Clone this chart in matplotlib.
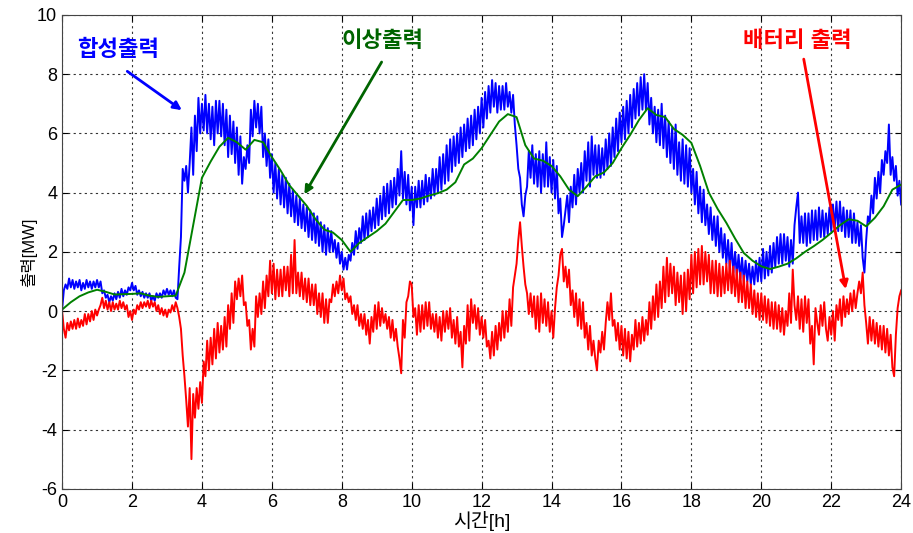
import numpy as np
import matplotlib
matplotlib.use('Agg')
from matplotlib import pyplot as plt

plt.rcParams['font.family'] = ['Liberation Sans', 'Noto Sans CJK KR', 'DejaVu Sans']
plt.rcParams['axes.unicode_minus'] = False

# Ideal output (green), sampled every 0.25 h
ideal = [0.05, 0.30, 0.50, 0.63, 0.72, 0.65, 0.56, 0.57,
         0.58, 0.60, 0.52, 0.48, 0.50, 0.52, 1.30, 2.90,
         4.50, 5.05, 5.55, 5.85, 5.70, 5.45, 5.78, 5.70,
         5.20, 4.75, 4.25, 3.90, 3.55, 3.10, 2.75, 2.65,
         2.40, 2.00, 2.30, 2.50, 2.70, 2.95, 3.35, 3.75,
         3.75, 3.80, 3.90, 3.98, 4.10, 4.35, 4.95, 5.15,
         5.50, 5.95, 6.40, 6.65, 6.55, 5.60, 5.15, 5.08,
         4.90, 4.55, 4.10, 3.88, 4.20, 4.55, 4.68, 5.00,
         5.50, 5.95, 6.45, 6.85, 6.62, 6.55, 6.15, 5.95,
         5.68, 4.90, 4.00, 3.45, 2.98, 2.45, 1.96, 1.70,
         1.51, 1.42, 1.50, 1.60, 1.78, 2.00, 2.19, 2.40,
         2.64, 2.90, 3.10, 3.05, 2.86, 3.15, 3.54, 4.10,
         4.27]

# Combined output (blue), sampled every 0.05 h, one row per hour
combined = [
    0.05, 0.7, 0.9, 0.75, 1.1, 0.8, 1.05, 0.75, 1.0, 0.8, 1.05, 0.7, 0.95, 0.75, 1.05, 0.8, 1.0, 0.75, 1.0, 0.8,
    1.05, 0.8, 1.0, 0.6, 0.7, 0.45, 0.55, 0.3, 0.5, 0.35, 0.6, 0.4, 0.65, 0.45, 0.75, 0.5, 0.7, 0.55, 0.8, 0.7,
    0.95, 0.7, 0.85, 0.55, 0.7, 0.5, 0.65, 0.45, 0.6, 0.45, 0.6, 0.35, 0.5, 0.35, 0.6, 0.45, 0.6, 0.45, 0.7, 0.55,
    0.75, 0.55, 0.7, 0.5, 0.7, 0.45, 0.4, 1.5, 2.5, 4.8, 4.4, 4.9, 4.0, 5.0, 6.2, 4.6, 6.6, 5.4, 7.2, 6.0,
    7.0, 6.1, 7.3, 6.0, 7.0, 5.8, 6.9, 5.6, 7.1, 6.0, 7.1, 5.9, 7.0, 5.6, 6.8, 5.2, 6.6, 5.3, 6.4, 5.0,
    6.2, 4.6, 5.9, 4.3, 5.2, 4.8, 5.6, 5.0, 6.8, 5.9, 7.1, 6.2, 7.0, 6.0, 6.9, 5.2, 6.0, 4.9, 5.8, 4.5,
    5.3, 4.0, 5.0, 3.8, 4.8, 3.6, 4.6, 3.5, 4.5, 3.3, 4.3, 3.2, 4.1, 3.0, 3.9, 2.9, 3.8, 2.8, 3.6, 2.7,
    3.5, 2.5, 3.4, 2.4, 3.3, 2.3, 3.2, 2.2, 3.0, 2.0, 2.9, 1.9, 2.8, 2.0, 2.7, 2.0, 2.4, 1.8, 2.3, 1.6,
    2.0, 1.4, 1.8, 1.4, 1.9, 1.7, 2.3, 1.9, 2.7, 2.1, 2.8, 2.3, 3.2, 2.4, 3.3, 2.5, 3.4, 2.7, 3.5, 2.8,
    3.8, 2.9, 3.9, 3.1, 4.2, 3.2, 4.3, 3.3, 4.4, 3.5, 4.5, 3.6, 4.8, 3.9, 5.4, 3.8, 4.7, 3.6, 4.6, 3.4,
    4.2, 2.9, 4.2, 3.5, 4.4, 3.5, 4.4, 3.6, 4.6, 3.7, 4.5, 3.8, 4.8, 3.9, 4.8, 4.0, 5.2, 4.1, 5.3, 4.3,
    5.6, 4.4, 5.8, 4.7, 5.9, 4.9, 6.0, 5.0, 6.2, 5.2, 6.3, 5.4, 6.5, 5.5, 6.6, 5.6, 6.8, 5.8, 6.9, 6.0,
    7.2, 6.2, 7.4, 6.5, 7.6, 6.7, 7.8, 6.9, 7.7, 6.7, 7.6, 6.8, 7.6, 6.8, 7.7, 6.9, 7.4, 6.7, 7.3, 6.3,
    5.6, 4.8, 4.5, 3.6, 3.2, 3.9, 4.2, 5.4, 4.5, 5.6, 4.3, 5.3, 4.2, 5.4, 4.0, 5.3, 4.2, 5.7, 4.2, 5.2,
    4.0, 5.1, 3.8, 4.9, 3.3, 3.8, 2.5, 2.9, 3.4, 3.9, 3.0, 4.2, 3.5, 4.6, 3.6, 4.8, 4.0, 5.0, 4.0, 5.4,
    4.4, 5.7, 4.2, 5.9, 4.6, 5.6, 4.5, 5.6, 4.5, 5.5, 4.6, 5.8, 4.8, 6.0, 4.9, 6.2, 5.2, 6.5, 5.4, 6.7,
    5.7, 6.9, 5.8, 7.1, 6.0, 7.3, 6.2, 7.5, 6.5, 7.7, 6.6, 7.9, 6.8, 8.0, 6.8, 7.7, 6.3, 7.2, 6.0, 6.9,
    5.7, 6.8, 5.6, 7.0, 5.5, 6.6, 5.2, 6.4, 5.0, 6.2, 4.8, 6.3, 4.6, 5.7, 4.4, 5.8, 4.3, 5.6, 4.2, 5.5,
    4.0, 4.8, 3.6, 4.7, 3.3, 4.2, 3.0, 4.1, 2.9, 3.6, 2.6, 3.5, 2.4, 3.2, 2.2, 3.2, 2.0, 2.8, 1.8, 2.6,
    1.6, 2.4, 1.4, 2.3, 1.3, 2.0, 1.2, 1.9, 1.1, 1.8, 1.0, 1.7, 1.0, 1.6, 0.9, 1.5, 0.9, 1.7, 1.0, 1.8,
    1.0, 2.1, 1.1, 2.0, 1.2, 2.2, 1.3, 2.3, 1.5, 2.5, 1.6, 2.6, 1.6, 2.6, 1.7, 2.5, 1.5, 2.4, 1.6, 2.9,
    3.5, 4.0, 2.3, 3.2, 2.3, 3.3, 2.2, 3.3, 2.3, 3.4, 2.4, 3.4, 2.4, 3.5, 2.5, 3.4, 2.5, 3.3, 2.6, 3.5,
    2.7, 3.6, 2.8, 3.7, 2.7, 3.7, 2.7, 3.5, 2.5, 3.4, 2.5, 3.4, 2.3, 3.3, 2.3, 3.0, 2.2, 2.9, 1.8, 1.3,
    2.4, 3.2, 3.0, 3.9, 3.3, 4.5, 3.8, 4.7, 4.0, 5.1, 4.6, 5.4, 5.0, 6.3, 4.6, 5.2, 4.4, 4.9, 3.9, 4.4,
    3.6]

# Battery output (red), sampled every 0.05 h, one row per hour
battery = [
    0.0, -0.6, -0.9, -0.4, -0.65, -0.35, -0.6, -0.3, -0.6, -0.25, -0.55, -0.3, -0.5, -0.1, -0.45, -0.1, -0.35, 0.0, -0.3, 0.05,
    -0.15, 0.05, 0.2, 0.45, 0.1, 0.35, 0.05, 0.3, 0.0, 0.3, 0.05, 0.25, 0.05, 0.35, 0.1, 0.3, 0.05, 0.2, -0.2, 0.0,
    -0.3, 0.05, -0.1, 0.2, 0.05, 0.3, 0.1, 0.3, 0.15, 0.35, 0.1, 0.35, 0.15, 0.3, 0.0, 0.2, -0.1, 0.1, -0.15, 0.05,
    -0.2, 0.05, -0.05, 0.2, 0.0, 0.3, 0.1, -0.2, -0.6, -1.5, -2.2, -3.0, -3.9, -2.6, -5.0, -2.8, -3.6, -2.6, -3.3, -2.4,
    -3.1, -1.7, -2.2, -1.0, -2.0, -0.9, -1.8, -0.6, -1.6, -0.4, -1.4, -0.5, -1.3, -0.2, -1.2, 0.2, -0.6, 0.6, -0.4, 1.0,
    0.4, 1.1, 0.5, 1.2, 0.2, 0.3, -0.5, -0.3, -1.3, -0.6, -1.2, 0.5, -0.2, 0.6, -0.1, 1.0, 0.1, 1.2, 0.5, 1.7,
    0.6, 1.6, 0.4, 1.4, 0.5, 1.4, 0.5, 1.5, 0.7, 1.5, 0.5, 1.9, 0.6, 2.4, 0.6, 1.3, 0.5, 1.3, 0.4, 1.1,
    0.3, 1.1, 0.2, 0.9, 0.2, 0.9, -0.1, 0.6, -0.2, 0.6, -0.4, 0.4, -0.4, 0.4, 0.3, 0.9, 0.5, 1.0, 0.6, 1.2,
    0.7, 1.1, 0.4, 0.6, 0.3, 0.5, -0.1, 0.2, -0.3, 0.2, -0.5, -0.1, -0.6, -0.1, -0.8, -0.3, -1.1, -0.2, -0.7, 0.2,
    -0.6, 0.3, -0.5, 0.1, -0.4, -0.1, -0.6, -0.2, -0.9, -0.3, -1.0, -0.6, -1.2, -1.6, -2.1, -0.3, -0.9, 0.3, 0.5, 1.0,
    0.9, -0.2, 0.1, -0.8, 0.2, -0.7, 0.2, -0.6, 0.3, -0.5, 0.3, -0.6, -0.1, -0.7, -0.1, -0.9, -0.2, -1.0, 0.0, -0.7,
    0.0, -0.6, 0.1, -0.9, -0.3, -1.1, -0.2, -1.2, -0.7, -1.9, -0.5, -1.1, 0.2, -1.0, 0.4, -0.4, 0.2, -0.6, 0.1, -0.8,
    -0.2, -0.9, -0.3, -1.2, -1.0, -1.6, -0.7, -1.5, -0.5, -1.3, -0.4, -1.0, 0.0, -0.9, 0.0, -0.7, 0.4, -0.5, 0.8, 1.2,
    1.6, 2.4, 3.0, 2.2, 1.5, 0.9, 0.6, -0.1, 0.6, -0.2, 0.5, -0.6, 0.5, -0.7, 0.6, -0.4, 0.4, -0.5, 0.3, -0.7,
    0.0, -0.9, 0.1, 0.8, 1.2, 1.9, 2.1, 1.0, 1.5, 0.8, 1.4, 0.2, 0.7, -0.2, 0.6, -0.5, 0.4, -0.6, 0.3, -0.9,
    -0.4, -1.3, -0.5, -1.5, -1.0, -1.6, -2.0, -1.0, -1.4, -0.7, -1.3, -0.4, 0.3, -0.3, 0.6, -0.5, -0.3, -1.0, -0.4, -1.3,
    -0.5, -1.5, -0.6, -1.6, -0.7, -1.7, -0.8, -1.3, -0.3, -1.2, -0.4, -1.1, -0.2, -1.0, -0.3, -0.8, 0.3, -0.6, 0.5, -0.3,
    0.9, -0.2, 1.0, 0.1, 1.5, 0.3, 1.8, 0.5, 1.6, 0.6, 1.5, 0.2, 1.3, 0.3, 1.2, -0.1, 1.3, 0.0, 1.4, 0.4,
    1.9, 0.6, 2.0, 0.8, 2.1, 0.9, 2.2, 0.9, 2.0, 1.0, 1.9, 0.6, 1.7, 0.6, 1.7, 0.5, 1.6, 0.5, 1.5, 0.6,
    1.6, 0.7, 1.7, 0.6, 1.5, 0.5, 1.4, 0.3, 1.3, 0.3, 1.2, 0.1, 1.0, 0.1, 0.9, -0.1, 0.7, -0.2, 0.6, -0.3,
    0.6, -0.3, 0.5, -0.4, 0.4, -0.5, 0.3, -0.6, 0.3, -0.6, 0.2, -0.7, 0.1, -0.8, 0.0, -0.5, 0.6, -0.4, 1.4, 0.2,
    -0.3, 0.5, -0.6, 0.4, -0.7, 0.5, -0.4, 0.4, -1.1, -0.5, -1.8, 0.1, -0.4, -0.8, 0.2, -0.5, 0.3, -0.6, -1.0, -0.2,
    -0.8, 0.0, -1.0, 0.2, -0.3, 0.4, -0.5, 0.5, -0.2, 0.4, -0.1, 0.6, 0.0, 0.7, 0.1, 0.6, 1.0, 0.6, 1.3, 0.2,
    -0.4, -1.1, -0.2, -1.0, -0.3, -1.1, -0.4, -1.2, -0.5, -1.3, -0.5, -1.4, -0.6, -1.5, -0.8, -1.9, -2.2, -0.8, 0.1, 0.5,
    0.7]

t_ideal = np.arange(len(ideal)) * 0.25
t_fine = np.arange(len(combined)) * 0.05

fig = plt.figure(figsize=(9.13, 5.33), dpi=100)
ax = fig.add_axes([0.068, 0.083, 0.919, 0.889])

ax.plot(t_fine, combined, color='#0000ff', lw=1.4)
ax.plot(np.arange(len(battery)) * 0.05, battery, color='#ff0000', lw=1.4)
ax.plot(t_ideal, ideal, color='#008000', lw=1.4)

ax.set_xlim(0, 24)
ax.set_ylim(-6, 10)
ax.set_xticks(range(0, 25, 2))
ax.set_yticks(range(-6, 11, 2))
ax.grid(True, color='#333333', ls=(0, (2, 3)), lw=0.8)
ax.tick_params(direction='in', top=True, right=True, labelsize=13, length=4)
for s in ax.spines.values():
    s.set_color('#444444')

ax.set_xlabel('시간[h]', fontsize=14, labelpad=0)
ax.set_ylabel('출력[MW]', fontsize=12, labelpad=0)

# annotations
ax.annotate('', xy=(3.49, 6.73), xytext=(1.8, 8.15),
            arrowprops=dict(arrowstyle='-|>', color='#0000ff', lw=2, mutation_scale=12))
ax.text(0.43, 8.8, '합성출력', color='#0000ff', fontsize=16, fontweight='bold', va='center')

ax.annotate('', xy=(6.89, 3.86), xytext=(9.18, 8.49),
            arrowprops=dict(arrowstyle='-|>', color='#006400', lw=2, mutation_scale=12))
ax.text(8.0, 9.11, '이상출력', color='#006400', fontsize=16, fontweight='bold', va='center')

ax.annotate('', xy=(22.43, 0.65), xytext=(21.2, 8.6),
            arrowprops=dict(arrowstyle='-|>', color='#ff0000', lw=2, mutation_scale=12))
ax.text(19.48, 9.11, '배터리 출력', color='#ff0000', fontsize=16, fontweight='bold', va='center')

fig.savefig('out.png', dpi=100)
